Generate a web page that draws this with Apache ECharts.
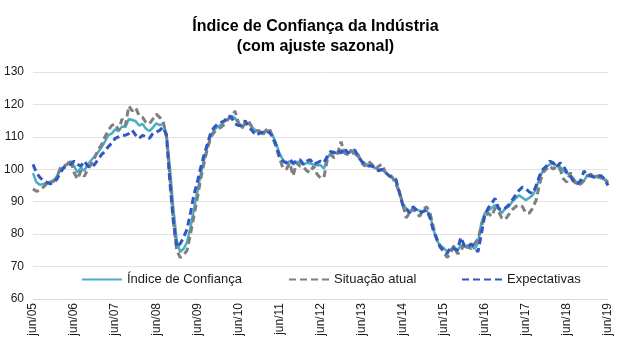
<!DOCTYPE html>
<html>
<head>
<meta charset="utf-8">
<script src="https://cdn.jsdelivr.net/npm/echarts@6/dist/echarts.min.js"></script>
<style>
  html, body { margin: 0; padding: 0; background: #fff; }
  #chart { width: 631px; height: 352px; }
</style>
</head>
<body>
<div id="chart"></div>
<script>
// months from jun/05 to jun/19
const monthNames = ['jan', 'fev', 'mar', 'abr', 'mai', 'jun', 'jul', 'ago', 'set', 'out', 'nov', 'dez']
const categories = []
for (let y = 2005; y <= 2019; y++) {
  for (let m = 0; m < 12; m++) {
    if ((y === 2005 && m < 5) || (y === 2019 && m > 5)) continue
    categories.push(monthNames[m] + '/' + String(y).slice(2))
  }
}

const yTicks = [60, 70, 80, 90, 100, 110, 120, 130]

const indiceConfianca = [
  98.8, 96.0, 95.2, 95.5, 95.8, 96.2, 96.0, 98.0, 100.0, 100.8, 101.5, 102.5,
  101.0, 99.0, 100.5, 99.5, 101.5, 102.8, 104.0, 105.2, 106.8, 108.5, 110.5, 111.0,
  112.3, 111.8, 113.2, 113.0, 115.5, 115.2, 114.8, 113.5, 114.0, 112.5, 111.8, 112.8,
  114.2, 113.6, 114.0, 111.0, 100.5, 88.0, 78.0, 74.5, 75.5, 77.5, 82.0, 87.5,
  93.0, 98.5, 103.0, 107.0, 110.5, 112.2, 113.2, 113.8, 114.8, 115.5, 116.5, 115.8,
  114.2, 113.0, 113.8, 114.2, 113.0, 112.0, 111.5, 110.8, 111.5, 112.0, 110.5, 108.0,
  105.0, 103.0, 101.8, 102.5, 101.5, 102.3, 102.0, 101.5, 102.0, 101.8, 101.5, 101.2,
  101.3, 100.2, 103.5, 105.0, 105.4, 104.8, 105.8, 106.0, 105.2, 105.6, 104.8, 103.8,
  102.3, 101.8, 101.3, 101.0, 100.3, 100.0, 99.8, 99.0, 98.2, 97.5, 96.2, 93.5,
  89.5, 88.0, 87.0, 87.3, 87.6, 87.2, 87.0, 87.2, 86.0, 81.5, 78.0, 76.5,
  75.7, 74.6, 75.2, 76.2, 75.0, 76.5, 76.2, 75.8, 76.5, 75.5, 77.2, 83.5,
  86.5, 87.3, 88.0, 89.0, 87.8, 86.5, 88.0, 88.5, 90.0, 91.0, 92.0, 91.2,
  90.5, 91.2, 92.0, 94.0, 97.5, 99.5, 100.8, 101.5, 101.8, 101.2, 100.8, 99.5,
  98.8, 98.3, 97.0, 95.7, 95.5, 96.5, 98.3, 97.8, 98.0, 97.5, 97.2, 96.8,
  95.5
]

const situacaoAtual = [
  94.0, 93.2, 93.5, 94.5, 95.5, 96.0, 96.5, 97.5, 100.5, 101.0, 101.5, 103.0,
  99.0, 97.0, 99.5, 97.8, 100.0, 101.5, 103.5, 106.0, 107.5, 110.0, 112.0, 113.5,
  114.0, 112.0, 115.5, 113.5, 119.5, 118.0, 119.0, 116.5, 116.0, 114.5, 114.0, 115.5,
  117.0, 116.0, 115.0, 110.0, 98.0, 84.0, 75.0, 72.8, 73.5, 75.0, 80.0, 85.5,
  91.0, 97.0, 102.0, 106.5, 110.0, 111.5, 112.5, 113.0, 114.0, 115.5, 116.0, 118.0,
  114.5, 112.5, 114.5, 114.8, 113.0, 111.8, 112.0, 110.5, 112.0, 112.8, 110.0, 107.0,
  103.5, 100.5, 100.0, 102.0, 98.0, 102.0, 101.0, 100.8, 99.5, 99.0, 101.0, 98.5,
  97.3, 97.5, 103.0, 104.5, 103.5, 105.0, 108.5, 105.0, 104.5, 106.0, 104.0, 104.5,
  102.0, 101.0, 102.5, 101.5, 100.0, 101.0, 101.5, 99.0, 98.5, 97.5, 95.5, 93.0,
  89.5, 85.0, 86.5, 88.0, 86.5, 85.5, 87.5, 88.5, 86.5, 82.0, 78.5, 76.0,
  74.5, 72.8, 74.0, 76.5, 74.0, 74.5, 77.5, 76.0, 75.5, 77.0, 78.5, 82.5,
  85.5, 86.5, 85.5, 88.0, 87.0, 85.0, 84.5, 86.0, 87.5, 88.5, 89.0, 88.5,
  86.5, 86.5, 88.0, 90.5, 95.5, 99.0, 100.0, 101.0, 100.0, 101.0, 100.0, 97.0,
  96.0, 99.0, 96.5, 95.0, 95.5, 96.5, 98.0, 98.5, 97.5, 98.0, 97.5, 97.0,
  96.0
]

const expectativas = [
  101.5, 99.0, 97.5, 96.5, 96.0, 95.5, 95.8, 97.0, 99.0, 100.5, 101.0, 101.5,
  102.5, 101.5, 101.0, 102.5, 101.0, 100.5, 101.5, 103.0, 104.5, 105.5, 107.0, 108.0,
  109.5, 110.0, 110.5, 110.5, 111.0, 112.0, 110.5, 109.5, 110.5, 110.0, 109.5, 111.0,
  111.5, 112.0, 113.0, 110.5, 96.0, 84.0, 76.0, 77.0, 79.0, 81.5, 86.5, 92.0,
  96.0, 100.5, 104.5, 108.0, 111.5, 113.0, 114.0, 114.5, 115.0, 116.5, 116.0, 114.0,
  113.5, 113.5, 115.0, 113.0, 112.0, 110.5, 111.0, 111.5, 111.0, 111.5, 110.0, 107.5,
  104.0, 102.5, 102.0, 103.0, 102.0, 102.5, 103.0, 101.5, 102.5, 103.0, 101.5, 102.0,
  102.5, 102.0, 104.0, 105.5, 105.0, 106.0, 105.0, 106.5, 105.0, 105.5, 106.0, 104.0,
  102.5, 101.5, 101.0, 101.0, 100.5, 99.5, 100.0, 99.0, 98.0, 97.5, 97.0, 93.0,
  89.0, 88.0, 86.5, 88.5, 87.5, 86.5, 87.0, 87.5, 85.0, 81.0, 78.5, 76.0,
  75.0, 74.0, 76.0, 75.5, 75.0, 79.0, 76.5, 76.0, 77.0, 76.0, 74.5, 80.0,
  86.0, 88.0, 89.5, 91.0, 88.0, 87.5, 88.0, 89.0, 90.5, 92.0, 93.5, 94.5,
  94.0, 93.0, 92.5, 95.0, 98.0, 100.0, 101.0, 102.5, 102.0, 100.5, 102.0, 101.0,
  99.0, 98.0, 96.0, 95.5, 96.5, 99.5, 98.0, 98.0, 97.5, 98.0, 98.0, 97.0,
  95.0
]

const seriesNames = ['Índice de Confiança', 'Situação atual', 'Expectativas']
const colors = ['#4bacc6', '#7f7f7f', '#3157c2']

const chart = echarts.init(document.getElementById('chart'), null, { renderer: 'canvas' })

const fontFamily = 'Liberation Sans, Arial, sans-serif'

function legendFor(i, left) {
  return {
    data: [seriesNames[i]],
    left: left,
    top: 268,
    itemWidth: 40,
    itemHeight: 14,
    itemGap: 4,
    itemStyle: { opacity: 0 },
    textStyle: { fontFamily, fontSize: 13, color: '#1a1a1a' },
    selectedMode: false
  }
}

chart.setOption({
  animation: false,
  color: colors,
  title: {
    text: 'Índice de Confiança da Indústria\n(com ajuste sazonal)',
    left: 'center',
    top: 12,
    textStyle: { fontFamily, fontSize: 16, fontWeight: 'bold', color: '#000', lineHeight: 20 }
  },
  legend: [
    legendFor(0, 76),
    legendFor(1, 283),
    legendFor(2, 456)
  ],
  grid: { left: 33, right: 23, top: 72, bottom: 53, containLabel: false },
  xAxis: {
    type: 'category',
    data: categories,
    boundaryGap: false,
    axisLine: { lineStyle: { color: '#d9d9d9', width: 1 } },
    axisTick: { show: false },
    axisLabel: {
      interval: 11,
      rotate: 90,
      margin: 4,
      fontFamily,
      fontSize: 12,
      color: '#1a1a1a'
    },
    splitLine: { show: false }
  },
  yAxis: {
    type: 'value',
    min: yTicks[0],
    max: yTicks[yTicks.length - 1],
    interval: 10,
    axisLine: { show: false },
    axisTick: { show: false },
    axisLabel: { fontFamily, fontSize: 12, color: '#1a1a1a', margin: 9 },
    splitLine: { lineStyle: { color: '#e3e3e3', width: 1 } }
  },
  series: [{
    name: seriesNames[0],
    type: 'line',
    data: indiceConfianca,
    symbol: 'none',
    lineStyle: { color: colors[0], width: 2.5 },
    itemStyle: { color: colors[0] }
  }, {
    name: seriesNames[1],
    type: 'line',
    data: situacaoAtual,
    symbol: 'none',
    lineStyle: { color: colors[1], width: 3, type: [7, 4] },
    itemStyle: { color: colors[1] }
  }, {
    name: seriesNames[2],
    type: 'line',
    data: expectativas,
    symbol: 'none',
    lineStyle: { color: colors[2], width: 3, type: [7, 4] },
    itemStyle: { color: colors[2] }
  }]
})
</script>
</body>
</html>
